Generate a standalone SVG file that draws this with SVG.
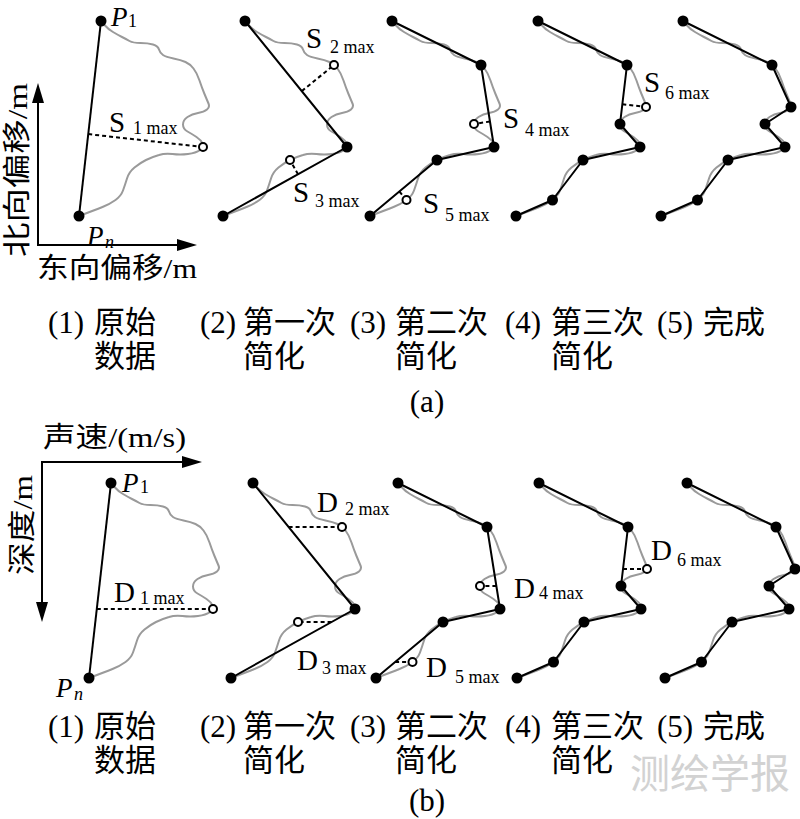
<svg xmlns="http://www.w3.org/2000/svg" xmlns:xlink="http://www.w3.org/1999/xlink" width="800" height="819" viewBox="0 0 800 819">
<style>
.curve{fill:none;stroke:#9a9a9a;stroke-width:2;stroke-linejoin:round;stroke-linecap:round}
.seg{fill:none;stroke:#000;stroke-width:2;stroke-linejoin:round}
.dash{fill:none;stroke:#000;stroke-width:2;stroke-dasharray:4 3}
.dot{fill:#000}
.open{fill:#fff;stroke:#000;stroke-width:2}
.axis{fill:none;stroke:#000;stroke-width:2}
text{font-family:"Liberation Serif","Noto Sans CJK SC",serif;fill:#000}
.sym{font-size:29px}
.sub{font-size:18px}
.pi{font-size:27px;font-style:italic}
.cap{font-size:31px}
.ax{font-size:28px}
.mark{font-family:"Noto Sans CJK SC",sans-serif;font-size:40px;fill:#d2d2d2}
</style>
<defs>
<marker id="arr" viewBox="0 0 20 12" markerWidth="20" markerHeight="12" refX="0" refY="6" orient="auto-start-reverse" markerUnits="userSpaceOnUse">
<path d="M0,0 L20,6 L0,12 z" fill="#000"/>
</marker>
<path id="curve" class="curve" d="M101,21 L104.5,25 Q108,29 113,32 Q118,35 122,37 Q126,39 129.5,41 Q133,43 140.5,43 Q148,43 153,44.5 Q158,46 159,49.5 Q160,53 163,55 Q166,57 173.5,58.5 Q181,60 185.5,62 Q190,64 193.5,68.5 Q197,73 199.5,80.5 Q202,88 204.5,94 Q207,100 208.5,103.5 Q210,107 207,109.5 Q204,112 198,113 Q192,114 187.5,117 Q183,120 183,124.5 Q183,129 187.5,131.5 Q192,134 196.5,137 Q201,140 202.5,143.5 Q204,147 200,150 Q196,153 188,154 Q180,155 172.5,154 Q165,153 159,155 Q152,157 146,160 Q140,163 134.5,167.5 Q129,172 127,178.5 Q125,185 123,190.5 Q121,196 115.5,200 Q110,204 102.5,207 Q95,210 79,216"/>
</defs>

<!-- ===== Part (a) ===== -->
<g id="axes-a">
<path class="axis" d="M38,103 L38,245 L177,245" marker-start="url(#arr)" marker-end="url(#arr)"/>
<text class="ax" transform="translate(27,170) rotate(-90)" text-anchor="middle" textLength="174" lengthAdjust="spacingAndGlyphs">北向偏移/m</text>
<text class="ax" x="37" y="278" textLength="160" lengthAdjust="spacingAndGlyphs">东向偏移/m</text>
</g>

<g id="a1">
<g transform="translate(0,0)">
<use xlink:href="#curve"/>
<g class="connectors"><path class="seg" d="M101,21 L79,216"/><path class="dash" d="M88.2,134.1 L203,147"/></g>
<circle class="dot" cx="101" cy="21" r="5.5"/><circle class="dot" cx="79" cy="216" r="5.5"/>
<circle class="open" cx="203" cy="147" r="4"/>
</g>
<text class="pi" x="111" y="26">P<tspan class="sub" font-style="normal" x="128" y="27">1</tspan></text>
<text class="pi" x="87" y="245">P<tspan class="sub" x="105" y="248">n</tspan></text>
<text class="sym" x="109" y="132">S<tspan class="sub" x="133" y="134">1 max</tspan></text>
</g>

<g id="a2">
<g transform="translate(144,0)">
<use xlink:href="#curve"/>
<g class="connectors"><path class="seg" d="M101,21 L203,147 L79,216"/><path class="dash" d="M157.8,91.1 L190,65"/><path class="dash" d="M154,174.3 L146,160"/></g>
<circle class="dot" cx="101" cy="21" r="5.5"/><circle class="dot" cx="203" cy="147" r="5.5"/><circle class="dot" cx="79" cy="216" r="5.5"/>
<circle class="open" cx="190" cy="65" r="4"/><circle class="open" cx="146" cy="160" r="4"/>
</g>
<text class="sym" x="306" y="48">S<tspan class="sub" x="330" y="53">2 max</tspan></text>
<text class="sym" x="293" y="202">S<tspan class="sub" x="315" y="207">3 max</tspan></text>
</g>

<g id="a3">
<g transform="translate(291,0)">
<use xlink:href="#curve"/>
<g class="connectors"><path class="seg" d="M101,21 L190,65 L203,147 L146,160 L79,216"/><path class="dash" d="M199,121.5 L183,124"/><path class="dash" d="M108.4,191.5 L115.5,200"/></g>
<circle class="dot" cx="101" cy="21" r="5.5"/><circle class="dot" cx="190" cy="65" r="5.5"/><circle class="dot" cx="203" cy="147" r="5.5"/><circle class="dot" cx="146" cy="160" r="5.5"/><circle class="dot" cx="79" cy="216" r="5.5"/>
<circle class="open" cx="183" cy="124" r="4"/><circle class="open" cx="115.5" cy="200" r="4"/>
</g>
<text class="sym" x="503" y="128">S<tspan class="sub" x="525" y="136">4 max</tspan></text>
<text class="sym" x="423" y="213">S<tspan class="sub" x="445" y="221">5 max</tspan></text>
</g>

<g id="a4">
<g transform="translate(437,0)">
<use xlink:href="#curve"/>
<g class="connectors"><path class="seg" d="M101,21 L190,65 L183,124 L203,147 L146,160 L115.5,200 L79,216"/><path class="dash" d="M185.3,104.2 L209,107"/></g>
<circle class="dot" cx="101" cy="21" r="5.5"/><circle class="dot" cx="190" cy="65" r="5.5"/><circle class="dot" cx="183" cy="124" r="5.5"/><circle class="dot" cx="203" cy="147" r="5.5"/><circle class="dot" cx="146" cy="160" r="5.5"/><circle class="dot" cx="115.5" cy="200" r="5.5"/><circle class="dot" cx="79" cy="216" r="5.5"/>
<circle class="open" cx="209" cy="107" r="4"/>
</g>
<text class="sym" x="644" y="92">S<tspan class="sub" x="665" y="99">6 max</tspan></text>
</g>

<g id="a5">
<g transform="translate(582,0)">
<use xlink:href="#curve"/>
<g class="connectors"><path class="seg" d="M101,21 L190,65 L209,107 L183,124 L203,147 L146,160 L115.5,200 L79,216"/></g>
<circle class="dot" cx="101" cy="21" r="5.5"/><circle class="dot" cx="190" cy="65" r="5.5"/><circle class="dot" cx="209" cy="107" r="5.5"/><circle class="dot" cx="183" cy="124" r="5.5"/><circle class="dot" cx="203" cy="147" r="5.5"/><circle class="dot" cx="146" cy="160" r="5.5"/><circle class="dot" cx="115.5" cy="200" r="5.5"/><circle class="dot" cx="79" cy="216" r="5.5"/>
</g>
</g>

<g id="captions-a">
<text class="cap" x="48" y="333">(1)</text><text class="cap" x="94" y="333">原始</text>
<text class="cap" x="94" y="367">数据</text>
<text class="cap" x="200" y="333">(2)</text><text class="cap" x="243" y="333">第一次</text>
<text class="cap" x="243" y="367">简化</text>
<text class="cap" x="350" y="333">(3)</text><text class="cap" x="395" y="333">第二次</text>
<text class="cap" x="395" y="367">简化</text>
<text class="cap" x="505" y="333">(4)</text><text class="cap" x="551" y="333">第三次</text>
<text class="cap" x="551" y="367">简化</text>
<text class="cap" x="657" y="333">(5)</text><text class="cap" x="703" y="333">完成</text>
<text class="cap" x="427" y="412" text-anchor="middle">(a)</text>
</g>

<!-- ===== Part (b) ===== -->
<g id="axes-b">
<path class="axis" d="M182,462 L42,462 L42,602" marker-start="url(#arr)" marker-end="url(#arr)"/>
<text class="ax" x="43" y="447" textLength="143" lengthAdjust="spacingAndGlyphs">声速/(m/s)</text>
<text class="ax" transform="translate(32,525) rotate(-90)" text-anchor="middle" textLength="100" lengthAdjust="spacingAndGlyphs">深度/m</text>
</g>

<g id="b1">
<g transform="translate(10,462)">
<use xlink:href="#curve"/>
<g class="connectors"><path class="seg" d="M101,21 L79,216"/><path class="dash" d="M86.8,147 L203,147"/></g>
<circle class="dot" cx="101" cy="21" r="5.5"/><circle class="dot" cx="79" cy="216" r="5.5"/>
<circle class="open" cx="203" cy="147" r="4"/>
</g>
<text class="pi" x="122" y="492">P<tspan class="sub" font-style="normal" x="140" y="493">1</tspan></text>
<text class="pi" x="56" y="697">P<tspan class="sub" x="74" y="700">n</tspan></text>
<text class="sym" x="114" y="602">D<tspan class="sub" x="140" y="604">1 max</tspan></text>
</g>

<g id="b2">
<g transform="translate(152,462)">
<use xlink:href="#curve"/>
<g class="connectors"><path class="seg" d="M101,21 L203,147 L79,216"/><path class="dash" d="M136.6,65 L190,65"/><path class="dash" d="M179.6,160 L146,160"/></g>
<circle class="dot" cx="101" cy="21" r="5.5"/><circle class="dot" cx="203" cy="147" r="5.5"/><circle class="dot" cx="79" cy="216" r="5.5"/>
<circle class="open" cx="190" cy="65" r="4"/><circle class="open" cx="146" cy="160" r="4"/>
</g>
<text class="sym" x="317" y="512">D<tspan class="sub" x="345" y="515">2 max</tspan></text>
<text class="sym" x="297" y="670">D<tspan class="sub" x="322" y="674">3 max</tspan></text>
</g>

<g id="b3">
<g transform="translate(297,462)">
<use xlink:href="#curve"/>
<g class="connectors"><path class="seg" d="M101,21 L190,65 L203,147 L146,160 L79,216"/><path class="dash" d="M199.4,124 L183,124"/><path class="dash" d="M98.1,200 L115.5,200"/></g>
<circle class="dot" cx="101" cy="21" r="5.5"/><circle class="dot" cx="190" cy="65" r="5.5"/><circle class="dot" cx="203" cy="147" r="5.5"/><circle class="dot" cx="146" cy="160" r="5.5"/><circle class="dot" cx="79" cy="216" r="5.5"/>
<circle class="open" cx="183" cy="124" r="4"/><circle class="open" cx="115.5" cy="200" r="4"/>
</g>
<text class="sym" x="514" y="598">D<tspan class="sub" x="539" y="599">4 max</tspan></text>
<text class="sym" x="426" y="677">D<tspan class="sub" x="455" y="683">5 max</tspan></text>
</g>

<g id="b4">
<g transform="translate(438,462)">
<use xlink:href="#curve"/>
<g class="connectors"><path class="seg" d="M101,21 L190,65 L183,124 L203,147 L146,160 L115.5,200 L79,216"/><path class="dash" d="M185,107 L209,107"/></g>
<circle class="dot" cx="101" cy="21" r="5.5"/><circle class="dot" cx="190" cy="65" r="5.5"/><circle class="dot" cx="183" cy="124" r="5.5"/><circle class="dot" cx="203" cy="147" r="5.5"/><circle class="dot" cx="146" cy="160" r="5.5"/><circle class="dot" cx="115.5" cy="200" r="5.5"/><circle class="dot" cx="79" cy="216" r="5.5"/>
<circle class="open" cx="209" cy="107" r="4"/>
</g>
<text class="sym" x="651" y="560">D<tspan class="sub" x="677" y="566">6 max</tspan></text>
</g>

<g id="b5">
<g transform="translate(586,462)">
<use xlink:href="#curve"/>
<g class="connectors"><path class="seg" d="M101,21 L190,65 L209,107 L183,124 L203,147 L146,160 L115.5,200 L79,216"/></g>
<circle class="dot" cx="101" cy="21" r="5.5"/><circle class="dot" cx="190" cy="65" r="5.5"/><circle class="dot" cx="209" cy="107" r="5.5"/><circle class="dot" cx="183" cy="124" r="5.5"/><circle class="dot" cx="203" cy="147" r="5.5"/><circle class="dot" cx="146" cy="160" r="5.5"/><circle class="dot" cx="115.5" cy="200" r="5.5"/><circle class="dot" cx="79" cy="216" r="5.5"/>
</g>
</g>

<g id="captions-b">
<text class="cap" x="48" y="737">(1)</text><text class="cap" x="94" y="737">原始</text>
<text class="cap" x="94" y="771">数据</text>
<text class="cap" x="200" y="737">(2)</text><text class="cap" x="243" y="737">第一次</text>
<text class="cap" x="243" y="771">简化</text>
<text class="cap" x="350" y="737">(3)</text><text class="cap" x="395" y="737">第二次</text>
<text class="cap" x="395" y="771">简化</text>
<text class="cap" x="505" y="737">(4)</text><text class="cap" x="551" y="737">第三次</text>
<text class="cap" x="551" y="771">简化</text>
<text class="cap" x="657" y="737">(5)</text><text class="cap" x="703" y="737">完成</text>
<text class="cap" x="427" y="811" text-anchor="middle">(b)</text>
</g>

<text class="mark" x="630" y="788">测绘学报</text>
</svg>
